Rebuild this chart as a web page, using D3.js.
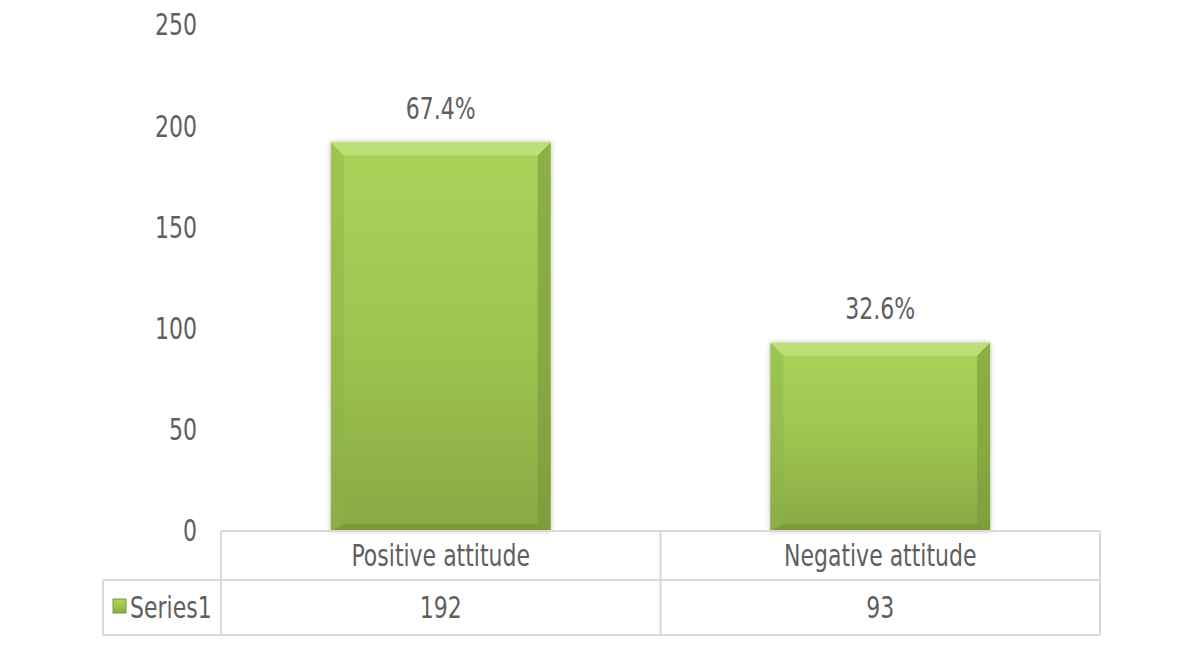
<!DOCTYPE html>
<html lang="en">
<head>
  <meta charset="UTF-8">
  <title>Attitude chart</title>
  <style>
    body { margin: 0; background: #fff; }
    svg text { font-family: "DejaVu Sans Condensed", "DejaVu Sans", sans-serif; fill: #5f5f5f; }
  </style>
</head>
<body>
  <svg id="chart" width="1201" height="651"></svg>
  <script src="https://cdn.jsdelivr.net/npm/d3@7/dist/d3.min.js"></script>
  <script>
    // chart data
    const categories = ["Positive attitude", "Negative attitude"];
    const values = [192, 93];
    const percentLabels = ["67.4%", "32.6%"];
    const seriesName = "Series1";
    const yTicks = [0, 50, 100, 150, 200, 250];

    const svg = d3.select("#chart");
    const plotLeft = 221, plotRight = 1100, plotTop = 25, plotBottom = 531;
    const fontSize = 30, squeeze = 0.815;

    const x = d3.scaleBand().domain(categories).range([plotLeft, plotRight]).paddingInner(0.5).paddingOuter(0.25);
    const y = d3.scaleLinear().domain([0, 250]).range([plotBottom, plotTop]);

    // narrow tall text like the original chart font
    function label(parent, px, py, str, anchor) {
      return parent.append("text")
        .attr("transform", `translate(${px},${py}) scale(${squeeze},1)`)
        .attr("text-anchor", anchor || "middle")
        .attr("dominant-baseline", "central")
        .attr("font-size", fontSize)
        .text(str);
    }

    const defs = svg.append("defs");
    const grad = defs.append("linearGradient").attr("id", "barGrad")
      .attr("x1", 0).attr("y1", 0).attr("x2", 0).attr("y2", 1);
    grad.append("stop").attr("offset", "0%").attr("stop-color", "#a9d45a");
    grad.append("stop").attr("offset", "55%").attr("stop-color", "#9cc34f");
    grad.append("stop").attr("offset", "100%").attr("stop-color", "#88a843");

    const shadow = defs.append("filter").attr("id", "shadow")
      .attr("x", "-10%").attr("y", "-10%").attr("width", "120%").attr("height", "120%");
    shadow.append("feDropShadow").attr("dx", 0).attr("dy", 0).attr("stdDeviation", 2.5)
      .attr("flood-color", "#000").attr("flood-opacity", 0.3);

    // y axis labels
    const yAxis = svg.append("g");
    yTicks.forEach(t => label(yAxis, 197, y(t), t, "end"));

    // bars with bevel
    const bev = 13;
    const bars = svg.append("g").selectAll("g").data(values).join("g");
    bars.each(function (v, i) {
      const g = d3.select(this);
      const x0 = x(categories[i]), w = x.bandwidth();
      const y0 = y(v), h = y(0) - y(v);
      const x1 = x0 + w, y1 = y0 + h;
      g.append("rect").attr("x", x0).attr("y", y0).attr("width", w).attr("height", h)
        .attr("fill", "url(#barGrad)").attr("filter", "url(#shadow)");
      // top bevel
      g.append("polygon").attr("points", [[x0, y0], [x1, y0], [x1 - bev, y0 + bev], [x0 + bev, y0 + bev]].join(" "))
        .attr("fill", "#c8e88a").attr("opacity", 0.6);
      // left bevel
      g.append("polygon").attr("points", [[x0, y0], [x0 + bev, y0 + bev], [x0 + bev, y1 - bev * 0.5], [x0, y1]].join(" "))
        .attr("fill", "#8fb446").attr("opacity", 0.45);
      // right bevel
      g.append("polygon").attr("points", [[x1, y0], [x1 - bev, y0 + bev], [x1 - bev, y1 - bev * 0.5], [x1, y1]].join(" "))
        .attr("fill", "#78973a").attr("opacity", 0.6);
      // bottom bevel
      g.append("polygon").attr("points", [[x0, y1], [x0 + bev, y1 - bev * 0.5], [x1 - bev, y1 - bev * 0.5], [x1, y1]].join(" "))
        .attr("fill", "#6f8c33").attr("opacity", 0.55);
    });

    // percent labels
    const pct = svg.append("g");
    values.forEach((v, i) => label(pct, x(categories[i]) + x.bandwidth() / 2, y(v) - 34, percentLabels[i]));

    // data table
    const rowMid = 580, rowBot = 635, legendLeft = 103;
    const lineColor = "#d9d9d9";
    const table = svg.append("g").attr("stroke", lineColor).attr("stroke-width", 2).attr("fill", "none");
    table.append("line").attr("x1", plotLeft).attr("x2", plotRight).attr("y1", plotBottom).attr("y2", plotBottom);
    table.append("line").attr("x1", legendLeft).attr("x2", plotRight).attr("y1", rowMid).attr("y2", rowMid);
    table.append("line").attr("x1", legendLeft).attr("x2", plotRight).attr("y1", rowBot).attr("y2", rowBot);
    table.append("line").attr("x1", legendLeft).attr("x2", legendLeft).attr("y1", rowMid).attr("y2", rowBot);
    const step = x.step();
    [plotLeft, plotLeft + step, plotRight].forEach(xx => {
      table.append("line").attr("x1", xx).attr("x2", xx).attr("y1", plotBottom).attr("y2", rowBot);
    });

    const colCenter = i => plotLeft + step * (i + 0.5);
    const tableText = svg.append("g");
    categories.forEach((c, i) => label(tableText, colCenter(i), (plotBottom + rowMid) / 2, c));
    values.forEach((v, i) => label(tableText, colCenter(i), (rowMid + rowBot) / 2, v));

    // legend key
    svg.append("rect").attr("x", 113).attr("y", 599).attr("width", 13).attr("height", 14)
      .attr("fill", "url(#barGrad)").attr("stroke", "#7a9a3a").attr("stroke-width", 1);
    label(tableText, 130, (rowMid + rowBot) / 2, seriesName, "start");
  </script>
</body>
</html>
